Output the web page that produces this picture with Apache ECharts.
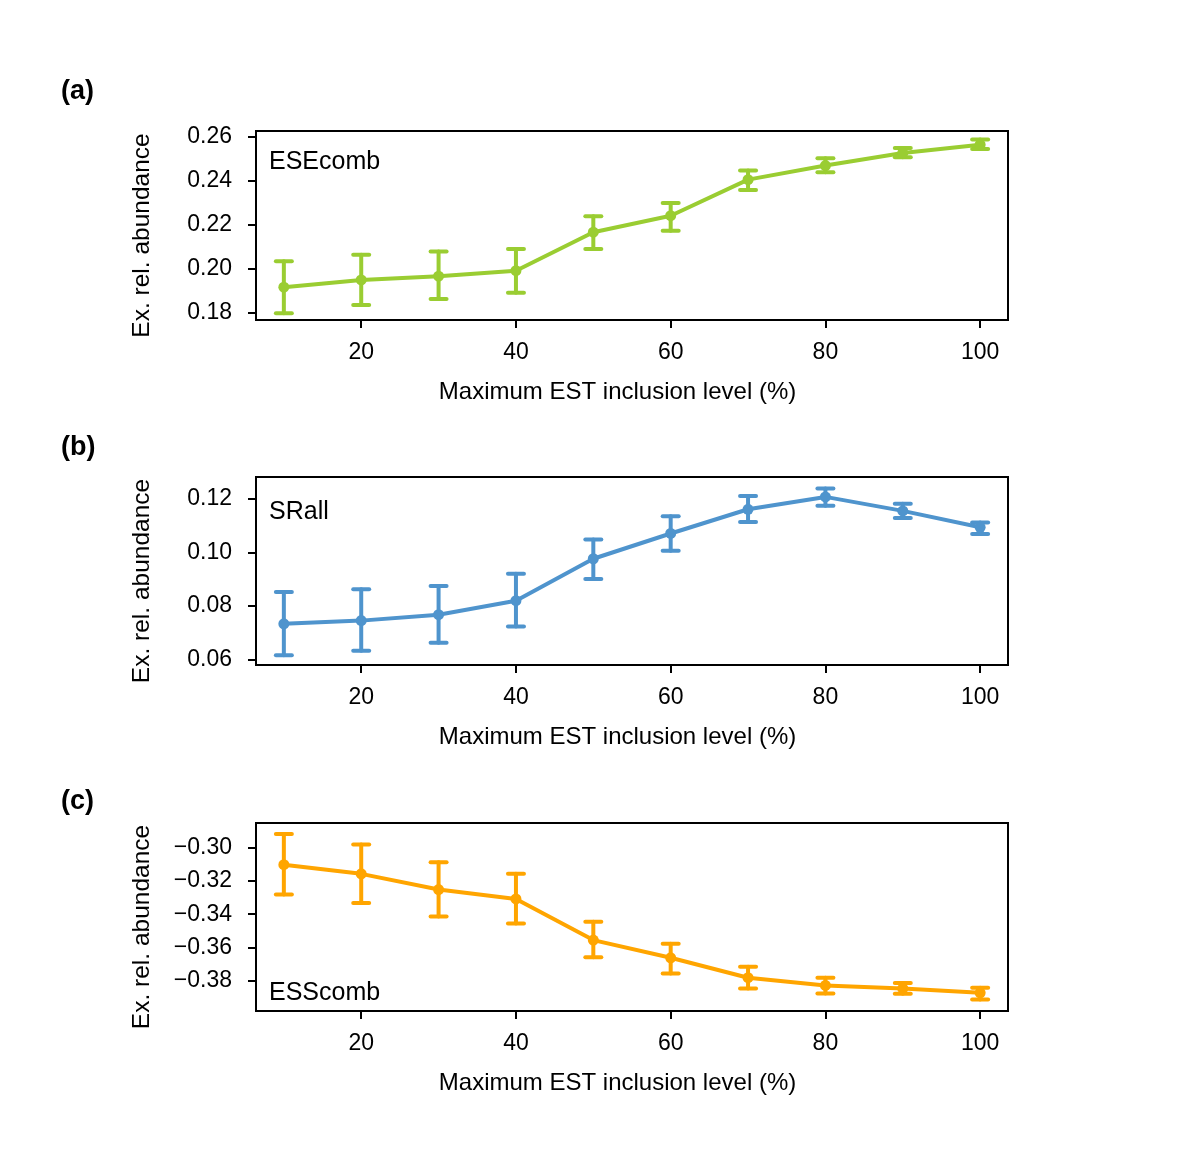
<!DOCTYPE html>
<html>
<head>
<meta charset="utf-8">
<script src="https://cdn.jsdelivr.net/npm/echarts@6/dist/echarts.min.js"></script>
<style>html,body{margin:0;padding:0;background:#fff;}#c{width:1200px;height:1156px;}</style>
</head>
<body>
<div id="c"></div>
<script>
const xLevels = [10, 20, 30, 40, 50, 60, 70, 80, 90, 100];
const xTicks = [20, 40, 60, 80, 100];

const eseMean = [0.1917, 0.1950, 0.1967, 0.1992, 0.2167, 0.2242, 0.2406, 0.2470, 0.2527, 0.2565];
const eseLow  = [0.1799, 0.1836, 0.1864, 0.1892, 0.2091, 0.2174, 0.2359, 0.2440, 0.2508, 0.2545];
const eseHigh = [0.2035, 0.2064, 0.2079, 0.2091, 0.2240, 0.2300, 0.2447, 0.2503, 0.2550, 0.2588];
const eseTicks = [0.18, 0.20, 0.22, 0.24, 0.26];

const srMean = [0.0734, 0.0746, 0.0768, 0.0820, 0.0976, 0.1070, 0.1160, 0.1206, 0.1154, 0.1093];
const srLow  = [0.0617, 0.0634, 0.0664, 0.0724, 0.0901, 0.1006, 0.1113, 0.1173, 0.1128, 0.1068];
const srHigh = [0.0852, 0.0863, 0.0875, 0.0920, 0.1048, 0.1134, 0.1209, 0.1237, 0.1181, 0.1111];
const srTicks = [0.06, 0.08, 0.10, 0.12];

const essMean = [-0.3104, -0.3159, -0.3253, -0.3309, -0.3555, -0.3661, -0.3780, -0.3826, -0.3844, -0.3870];
const essLow  = [-0.3283, -0.3333, -0.3414, -0.3456, -0.3657, -0.3755, -0.3844, -0.3874, -0.3876, -0.3910];
const essHigh = [-0.2921, -0.2984, -0.3090, -0.3159, -0.3446, -0.3577, -0.3715, -0.3780, -0.3811, -0.3840];
const essTicks = [-0.38, -0.36, -0.34, -0.32, -0.30];

const panels = [
  {tag: '(a)', name: 'ESEcomb', mean: eseMean, low: eseLow, high: eseHigh, ticks: eseTicks, color: '#9ACD32', top: 131, height: 189, ymin: 0.1768, ymax: 0.2627, labelTop: 150, tagTop: 78},
  {tag: '(b)', name: 'SRall', mean: srMean, low: srLow, high: srHigh, ticks: srTicks, color: '#4F94CD', top: 477, height: 188, ymin: 0.0581, ymax: 0.1280, labelTop: 500, tagTop: 434},
  {tag: '(c)', name: 'ESScomb', mean: essMean, low: essLow, high: essHigh, ticks: essTicks, color: '#FFA500', top: 823, height: 188, ymin: -0.3979, ymax: -0.2855, labelTop: 981, tagTop: 788}
];

const FONT = 'Liberation Sans, Arial, Helvetica, sans-serif';
const grid = [], xAxis = [], yAxis = [], series = [], graphic = [];

panels.forEach((p, i) => {
  grid.push({left: 256, right: 192, top: p.top, height: p.height, show: true, borderColor: '#000', borderWidth: 2, backgroundColor: 'transparent'});
  xAxis.push({
    type: 'value', gridIndex: i, min: 6.4, max: 103.6,
    name: 'Maximum EST inclusion level (%)', nameLocation: 'middle', nameGap: 60,
    nameTextStyle: {fontFamily: FONT, fontSize: 24, color: '#000', padding: [0, 29, 0, 0]},
    axisLine: {show: false},
    axisTick: {show: true, length: 8, lineStyle: {color: '#000', width: 2}, customValues: xTicks},
    axisLabel: {fontFamily: FONT, fontSize: 23, color: '#000', margin: 21, customValues: xTicks},
    splitLine: {show: false}
  });
  yAxis.push({
    type: 'value', gridIndex: i, min: p.ymin, max: p.ymax,
    name: 'Ex. rel. abundance', nameLocation: 'middle', nameGap: 101,
    nameTextStyle: {fontFamily: FONT, fontSize: 24.5, color: '#000', padding: [0, 20, 0, 0]},
    axisLine: {show: false},
    axisTick: {show: true, length: 8, lineStyle: {color: '#000', width: 2}, customValues: p.ticks},
    axisLabel: {fontFamily: FONT, fontSize: 23, color: '#000', margin: 24, customValues: p.ticks,
      formatter: v => (v < 0 ? '\u2212' : '') + Math.abs(v).toFixed(2)},
    splitLine: {show: false}
  });
  series.push({
    type: 'line', xAxisIndex: i, yAxisIndex: i,
    data: xLevels.map((x, k) => [x, p.mean[k]]),
    lineStyle: {color: p.color, width: 4},
    itemStyle: {color: p.color},
    symbol: 'circle', symbolSize: 11, showSymbol: true, z: 3, animation: false
  });
  series.push({
    type: 'custom', xAxisIndex: i, yAxisIndex: i,
    data: xLevels.map((x, k) => [x, p.low[k], p.high[k]]),
    encode: {x: 0, y: [1, 2]},
    renderItem: (params, api) => {
      const x = api.value(0);
      const lo = api.coord([x, api.value(1)]);
      const hi = api.coord([x, api.value(2)]);
      const hw = 8;
      const st = {stroke: p.color, lineWidth: 4, lineCap: 'round'};
      return {type: 'group', children: [
        {type: 'line', shape: {x1: lo[0], y1: lo[1], x2: hi[0], y2: hi[1]}, style: st},
        {type: 'line', shape: {x1: lo[0] - hw, y1: lo[1], x2: lo[0] + hw, y2: lo[1]}, style: st},
        {type: 'line', shape: {x1: hi[0] - hw, y1: hi[1], x2: hi[0] + hw, y2: hi[1]}, style: st}
      ]};
    },
    z: 2, animation: false
  });
  graphic.push({type: 'text', left: 61, top: p.tagTop, style: {text: p.tag, font: 'bold 27px ' + FONT, fill: '#000'}});
  graphic.push({type: 'text', left: 269, top: p.labelTop, style: {text: p.name, font: '25px ' + FONT, fill: '#000'}});
});

const chart = echarts.init(document.getElementById('c'), null, {renderer: 'canvas'});
chart.setOption({backgroundColor: '#fff', animation: false, grid, xAxis, yAxis, series, graphic});
</script>
</body>
</html>
